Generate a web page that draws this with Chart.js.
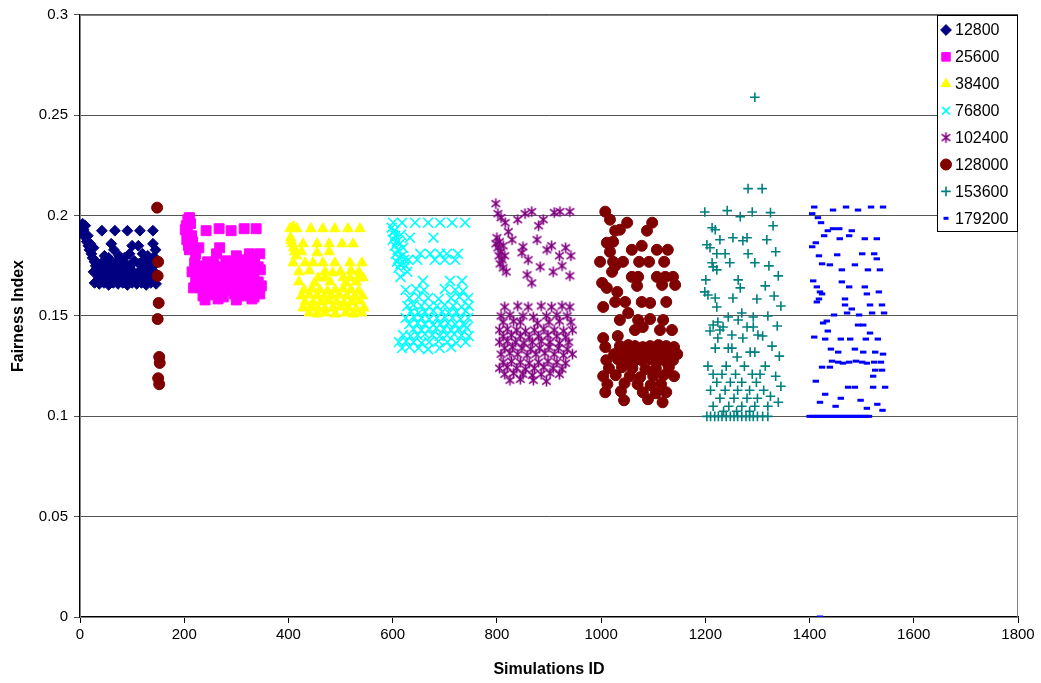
<!DOCTYPE html>
<html><head><meta charset="utf-8">
<script src="https://cdn.jsdelivr.net/npm/chart.js@4.4.1/dist/chart.umd.min.js"></script>
<style>html,body{margin:0;padding:0;background:#fff;}#wrap{width:1041px;height:683px;}</style>
</head><body><div id="wrap"><canvas id="c" width="1041" height="683"></canvas></div>
<script>
const seriesNames = ['12800','25600','38400','76800','102400','128000','153600','179200'];
const xTicks = [0,200,400,600,800,1000,1200,1400,1600,1800];
const yTickLabels = ['0','0.05','0.1','0.15','0.2','0.25','0.3'];

const s12800 = [[1,0.192],[3,0.194],[5,0.196],[7,0.193],[8,0.19],[10,0.195],[11,0.189],[13,0.187],[15,0.19],[16,0.185],[18,0.183],[20,0.186],[22,0.181],[24,0.179],[26,0.184],[28,0.177],[30,0.175],[32,0.172],
[42,0.1925],[67,0.1925],[91,0.1925],[115,0.1925],[140,0.1925],
[60,0.186],[65,0.183],[55,0.179],[100,0.185],[95,0.181],[112,0.185],[120,0.181],[140,0.186],[145,0.183],[138,0.178],[75,0.18],[85,0.179],[47,0.18],[130,0.18],
[33,0.1765],[40,0.175],[46,0.1775],[53,0.176],[61,0.1745],[69,0.177],[77,0.1755],[86,0.1765],[96,0.175],[104,0.1775],[113,0.176],[123,0.1745],[133,0.177],[143,0.1755],
[26,0.172],[34,0.1725],[41,0.171],[50,0.173],[58,0.1715],[66,0.1725],[74,0.171],[83,0.173],[92,0.1715],[100,0.1725],[108,0.171],[118,0.173],[127,0.1715],[136,0.1725],[146,0.171],
[36,0.169],[44,0.1685],[54,0.1695],[63,0.168],[72,0.169],[81,0.1685],[90,0.1695],[99,0.168],[110,0.169],[120,0.1685],[130,0.1695],[140,0.168],
[28,0.1665],[37,0.166],[46,0.1665],[55,0.1655],[64,0.1665],[73,0.166],[82,0.1665],[91,0.1655],[100,0.1665],[109,0.166],[118,0.1665],[127,0.1655],[136,0.1665],[146,0.166],
[42,0.174],[62,0.1735],[95,0.174],[122,0.178],[142,0.1795],[48,0.1685],[78,0.1675],[104,0.1675],[132,0.1675]];

const s25600 = [[202,0.193],[204,0.195],[207,0.198],[210,0.199],[212,0.196],[206,0.191],[205,0.188],[208,0.185],[210,0.183],[214,0.19],[216,0.187],
[242,0.1925],[267,0.1935],[290,0.1925],[315,0.1935],[338,0.1935],
[222,0.181],[228,0.184],[262,0.181],[268,0.184],[300,0.18],[310,0.178],[325,0.181],[335,0.179],[345,0.181],
[220,0.1765],[232,0.175],[245,0.177],[256,0.176],[268,0.1745],[280,0.1775],[292,0.176],[305,0.175],[318,0.177],[330,0.176],[342,0.1745],
[215,0.172],[226,0.1725],[238,0.171],[250,0.173],[262,0.1715],[274,0.1725],[286,0.171],[298,0.173],[310,0.1715],[322,0.1725],[334,0.171],[346,0.173],
[222,0.168],[234,0.1685],[246,0.167],[258,0.169],[270,0.1675],[282,0.1685],[294,0.167],[306,0.169],[318,0.1675],[330,0.1685],[342,0.167],
[218,0.164],[230,0.1645],[242,0.163],[254,0.165],[266,0.1635],[278,0.1645],[290,0.163],[302,0.165],[314,0.1635],[326,0.1645],[338,0.163],[348,0.165],
[236,0.16],[252,0.1605],[275,0.1595],[296,0.161],[318,0.16],[334,0.1595],[345,0.161],
[240,0.158],[265,0.1585],[300,0.158],[330,0.1585]];

const s38400 = [[403,0.1935],[409,0.1945],[416,0.1935],[443,0.1935],[466,0.1935],[489,0.1935],[514,0.1935],[537,0.1935],
[404,0.189],[407,0.186],[410,0.184],[412,0.182],[405,0.1875],[415,0.18],
[428,0.186],[455,0.186],[478,0.186],[503,0.186],[524,0.186],
[425,0.182],[455,0.1815],[478,0.182],
[409,0.1765],[432,0.1765],[447,0.1765],[466,0.1765],[489,0.1765],[518,0.1765],[541,0.1765],
[420,0.172],[440,0.1725],[470,0.172],[485,0.1715],[500,0.172],[520,0.1725],[535,0.172],
[457,0.169],[470,0.169],[505,0.169],[518,0.169],[534,0.169],[543,0.169],
[420,0.167],[450,0.1665],[480,0.167],[510,0.1665],[530,0.167],
[430,0.163],[445,0.1635],[460,0.163],[475,0.1625],[490,0.163],[505,0.1635],[520,0.163],[535,0.1625],
[425,0.16],[440,0.1605],[455,0.16],[468,0.1595],[482,0.16],[497,0.1605],[512,0.16],[527,0.1595],[542,0.16],
[432,0.157],[447,0.1565],[462,0.157],[477,0.1575],[492,0.157],[507,0.1565],[522,0.157],[537,0.1575],
[428,0.154],[442,0.1545],[456,0.154],[470,0.1535],[485,0.154],[500,0.1545],[515,0.154],[530,0.1535],[545,0.154],
[440,0.1515],[455,0.151],[470,0.1515],[490,0.151],[510,0.1515],[525,0.151],[540,0.1515]];

const s76800 = [[601,0.1965],[618,0.1965],[643,0.1965],[668,0.1965],[691,0.1965],[714,0.1965],[739,0.1965],
[598,0.194],[602,0.192],[605,0.19],[600,0.188],[608,0.187],[604,0.185],[610,0.183],[606,0.181],[612,0.179],[608,0.177],[615,0.176],[611,0.174],[618,0.18],[614,0.186],[620,0.184],[603,0.1925],[616,0.1905],[622,0.178],[625,0.175],[628,0.172],
[633,0.189],[678,0.189],[653,0.181],[672,0.181],[691,0.181],[704,0.181],[725,0.181],[630,0.178],[647,0.178],[681,0.178],[700,0.178],[720,0.178],[615,0.1695],[658,0.1675],[710,0.1675],[733,0.1675],
[625,0.163],[645,0.1635],[660,0.163],[700,0.1635],[720,0.163],[735,0.1625],
[632,0.159],[650,0.1595],[668,0.159],[688,0.1585],[712,0.159],[728,0.1595],[745,0.159],
[628,0.155],[640,0.1555],[655,0.155],[670,0.1545],[685,0.155],[700,0.1555],[716,0.155],[732,0.1545],[746,0.155],
[635,0.152],[650,0.1515],[662,0.152],[678,0.1525],[695,0.152],[708,0.1515],[722,0.152],[740,0.1525],
[625,0.149],[640,0.1495],[655,0.149],[670,0.1485],[685,0.149],[700,0.1495],[715,0.149],[730,0.1485],[745,0.149],
[632,0.146],[648,0.1465],[662,0.146],[678,0.1455],[692,0.146],[706,0.1465],[720,0.146],[738,0.1455],
[640,0.1435],[655,0.143],[670,0.1435],[684,0.144],[698,0.1435],[712,0.143],[726,0.1435],[742,0.144],
[620,0.1405],[634,0.14],[648,0.1405],[662,0.141],[676,0.1405],[690,0.14],[704,0.1405],[718,0.141],[732,0.1405],[746,0.14],
[612,0.137],[626,0.1375],[640,0.137],[655,0.1365],[670,0.137],[688,0.1375],[705,0.137],[722,0.1365],[740,0.137],
[618,0.134],[632,0.1345],[650,0.134],[668,0.1335],[690,0.134],[712,0.1345]];

const s102400 = [[798,0.206],[802,0.201],[808,0.199],[816,0.1965],[822,0.192],[840,0.198],[854,0.201],[867,0.202],[889,0.198],[910,0.2015],[921,0.202],[940,0.202],[880,0.195],
[800,0.189],[805,0.187],[802,0.184],[808,0.182],[804,0.18],[810,0.178],[806,0.176],[812,0.185],[815,0.18],[798,0.186],[812,0.174],[818,0.172],
[829,0.188],[850,0.1845],[877,0.188],[896,0.183],[848,0.1815],[860,0.178],[883,0.1745],[858,0.1705],[867,0.1665],[905,0.185],[920,0.18],[932,0.184],[942,0.18],[925,0.175],[940,0.17],[908,0.172],
[815,0.1545],[840,0.155],[860,0.1545],[885,0.155],[905,0.1545],[925,0.155],[940,0.1545],
[808,0.15],[825,0.1505],[850,0.15],[870,0.1495],[895,0.15],[915,0.1505],[935,0.15],
[812,0.147],[832,0.1475],[845,0.147],[878,0.1465],[900,0.147],[920,0.1475],[942,0.147],
[805,0.143],[820,0.1435],[838,0.143],[855,0.1425],[872,0.143],[890,0.1435],[910,0.143],[928,0.1425],[945,0.143],
[812,0.14],[828,0.1405],[845,0.14],[862,0.1395],[880,0.14],[898,0.1405],[915,0.14],[932,0.1395],
[805,0.137],[820,0.1375],[836,0.137],[852,0.1365],[868,0.137],[885,0.1375],[902,0.137],[920,0.1365],[938,0.137],
[815,0.134],[830,0.1345],[848,0.134],[865,0.1335],[882,0.134],[900,0.1345],[918,0.134],[935,0.1335],
[808,0.131],[825,0.1315],[840,0.131],[858,0.1305],[875,0.131],[892,0.1315],[910,0.131],[928,0.1305],[945,0.131],
[812,0.127],[828,0.1275],[845,0.127],[862,0.1265],[880,0.127],[898,0.1275],[915,0.127],[932,0.1265],
[805,0.124],[820,0.1245],[838,0.124],[855,0.1235],[872,0.124],[890,0.1245],[908,0.124],[925,0.1235],
[815,0.121],[832,0.1215],[850,0.121],[868,0.1205],[885,0.121],[902,0.1215],[920,0.121],
[825,0.118],[845,0.1185],[870,0.118],[895,0.1175]];

const s128000 = [[148,0.204],[150,0.177],[149,0.17],[151,0.1565],[149,0.1485],[152,0.1296],[153,0.1266],[150,0.119],[152,0.116],
[1008,0.202],[1017,0.198],[1050,0.1965],[1098,0.1965],[1027,0.1925],[1036,0.193],[1088,0.1925],
[1011,0.1865],[1023,0.187],[1059,0.183],[1078,0.185],[1107,0.183],[1128,0.183],[1017,0.182],
[998,0.177],[1023,0.177],[1042,0.177],[1073,0.177],[1092,0.177],[1121,0.177],[1021,0.172],[1027,0.175],
[1059,0.1695],[1071,0.1695],[1107,0.1695],[1123,0.1695],[1138,0.1695],[1002,0.1665],[1011,0.164],[1069,0.165],[1117,0.1655],[1142,0.1655],[1031,0.162],
[1027,0.157],[1046,0.157],[1078,0.157],[1094,0.1565],[1125,0.157],[1004,0.1545],[1052,0.1515],
[1036,0.148],[1071,0.148],[1094,0.1485],[1119,0.148],[1065,0.143],[1080,0.1445],[1113,0.143],[1136,0.143],
[1004,0.139],[1032,0.14],[1008,0.1345],
[1036,0.135],[1052,0.1355],[1065,0.135],[1080,0.1345],[1094,0.135],[1110,0.1355],[1125,0.135],[1140,0.1345],
[1025,0.131],[1040,0.1315],[1057,0.131],[1071,0.1305],[1088,0.131],[1102,0.1315],[1117,0.131],[1132,0.1305],[1146,0.131],
[1010,0.128],[1032,0.1285],[1048,0.128],[1063,0.1275],[1078,0.128],[1094,0.1285],[1108,0.128],[1123,0.1275],[1138,0.128],
[1015,0.124],[1040,0.1245],[1060,0.124],[1085,0.1235],[1105,0.124],[1130,0.1245],
[1004,0.12],[1028,0.1205],[1055,0.12],[1075,0.1195],[1100,0.12],[1120,0.1205],[1140,0.12],
[1012,0.116],[1045,0.1165],[1070,0.116],[1095,0.1155],[1115,0.116],
[1008,0.112],[1038,0.1125],[1080,0.112],[1105,0.1115],[1125,0.112],
[1044,0.108],[1090,0.1085],[1118,0.107]];

const s153600 = [[1199,0.2018],[1242,0.2025],[1267,0.1995],[1290,0.2018],[1213,0.194],[1219,0.193],[1228,0.188],[1253,0.189],[1272,0.1875],[1280,0.189],
[1203,0.1855],[1209,0.184],[1222,0.181],[1238,0.181],[1282,0.181],[1213,0.1765],[1215,0.1745],[1222,0.173],[1247,0.1765],[1295,0.1765],
[1201,0.168],[1263,0.168],[1267,0.164],[1199,0.162],[1205,0.1605],[1219,0.159],[1253,0.159],[1222,0.1545],[1299,0.1585],[1270,0.1515],
[1224,0.147],[1244,0.1495],[1263,0.148],[1292,0.1495],[1215,0.1455],[1234,0.1445],[1280,0.1445],[1292,0.1445],[1209,0.1425],[1228,0.143],
[1251,0.1405],[1272,0.139],[1224,0.139],[1301,0.1405],[1219,0.134],[1251,0.134],[1244,0.134],[1286,0.132],[1295,0.132],[1261,0.1296],
[1282,0.2135],[1309,0.2135],[1295,0.259],[1325,0.2015],[1330,0.195],[1318,0.188],[1335,0.182],[1322,0.175],[1340,0.17],[1315,0.165],
[1332,0.16],[1345,0.155],[1320,0.15],[1338,0.145],[1310,0.14],[1328,0.135],[1342,0.13],[1315,0.125],[1335,0.12],[1345,0.115],[1325,0.11],[1340,0.107],
[1205,0.125],[1240,0.125],[1275,0.125],[1215,0.121],[1232,0.121],[1258,0.121],[1290,0.121],[1305,0.121],
[1222,0.117],[1248,0.117],[1270,0.117],[1298,0.117],[1210,0.113],[1238,0.113],[1262,0.113],[1285,0.113],[1312,0.113],
[1228,0.109],[1255,0.109],[1280,0.109],[1300,0.109],[1215,0.105],[1245,0.105],[1270,0.105],[1295,0.105],[1320,0.105],
[1235,0.1025],[1260,0.1025],[1285,0.1025],
[1203,0.1],[1210,0.1],[1218,0.1],[1225,0.1],[1232,0.1],[1240,0.1],[1248,0.1],[1255,0.1],[1262,0.1],[1270,0.1],[1278,0.1],[1285,0.1],[1292,0.1],[1300,0.1],[1310,0.1],[1320,0.1]];

const s179200 = [[1409,0.2043],[1405,0.201],[1445,0.2028],[1470,0.2043],[1493,0.2028],[1518,0.2043],[1541,0.2043],[1416,0.199],[1422,0.1965],[1435,0.1925],
[1445,0.1935],[1457,0.1935],[1481,0.1925],[1428,0.19],[1458,0.1885],[1476,0.19],[1506,0.1885],[1529,0.1885],[1412,0.1865],[1405,0.1845],
[1418,0.18],[1453,0.1805],[1501,0.181],[1524,0.181],[1529,0.1785],[1424,0.176],[1439,0.1755],[1462,0.173],[1487,0.1755],[1512,0.173],[1535,0.173],
[1407,0.1675],[1414,0.1645],[1462,0.167],[1476,0.1645],[1506,0.1645],[1420,0.162],[1424,0.161],[1533,0.162],[1418,0.1585],[1414,0.157],
[1468,0.1585],[1510,0.161],[1468,0.1555],[1481,0.1535],[1516,0.1555],[1539,0.1555],[1447,0.1505],[1472,0.1515],[1495,0.1505],[1520,0.1515],[1543,0.1515],
[1433,0.1475],[1426,0.1465],[1493,0.1455],[1503,0.1455],[1435,0.1425],[1516,0.1415],[1409,0.1395],[1430,0.1385],[1460,0.1385],[1478,0.1385],[1508,0.1385],[1531,0.1385],
[1441,0.1335],[1455,0.132],[1487,0.1335],[1503,0.132],[1526,0.132],[1541,0.131],
[1443,0.1275],[1455,0.127],[1464,0.1265],[1476,0.127],[1489,0.1275],[1501,0.127],[1510,0.1265],[1524,0.127],[1537,0.127],
[1526,0.123],[1539,0.123],[1522,0.12],[1424,0.1245],[1439,0.1245],[1412,0.1175],[1474,0.1145],[1487,0.1145],[1522,0.1145],[1545,0.1145],
[1430,0.111],[1460,0.109],[1498,0.108],[1530,0.106],[1540,0.103],[1510,0.104],[1450,0.105],[1420,0.107],
[1400,0.1],[1406,0.1],[1412,0.1],[1418,0.1],[1424,0.1],[1430,0.1],[1436,0.1],[1442,0.1],[1448,0.1],[1454,0.1],[1460,0.1],[1466,0.1],[1472,0.1],[1478,0.1],[1484,0.1],[1490,0.1],[1496,0.1],[1502,0.1],[1508,0.1],[1514,0.1],
[1420,0]];

const seriesData = [s12800,s25600,s38400,s76800,s102400,s128000,s153600,s179200];

function makeAsterisk(color){
  const s=13, c=document.createElement('canvas'); c.width=s; c.height=s;
  const g=c.getContext('2d'); g.strokeStyle=color; g.lineWidth=1.6; const m=s/2, r=5.2, d=4.3;
  g.beginPath(); g.moveTo(m,m-r); g.lineTo(m,m+r);
  g.moveTo(m-d,m-d+1); g.lineTo(m+d,m+d-1); g.moveTo(m+d,m-d+1); g.lineTo(m-d,m+d-1); g.stroke();
  return c;
}
const styles = [
  {color:'#000080', pointStyle:'rectRot', radius:5.4, borderWidth:1},
  {color:'#FF00FF', pointStyle:'rect', radius:7, borderWidth:1},
  {color:'#FFFF00', pointStyle:'triangle', radius:6, borderWidth:1},
  {color:'#00FFFF', pointStyle:'crossRot', radius:7, borderWidth:1.6},
  {color:'#800080', pointStyle:makeAsterisk('#800080'), radius:6, borderWidth:1},
  {color:'#800000', pointStyle:'circle', radius:5.5, borderWidth:1},
  {color:'#008080', pointStyle:'cross', radius:4.8, borderWidth:1.6},
  {color:'#0000FF', pointStyle:'line', radius:3.2, borderWidth:3}
];

const datasets = seriesNames.map((name,i)=>({
  label:name,
  data: seriesData[i].map(p=>({x:p[0], y:p[1]})),
  pointStyle: styles[i].pointStyle,
  pointRadius: styles[i].radius,
  pointHoverRadius: styles[i].radius,
  pointBorderWidth: styles[i].borderWidth,
  backgroundColor: styles[i].color,
  borderColor: styles[i].color,
  showLine:false,
  order: seriesNames.length - i
}));

const frame = {
  id:'frame',
  beforeDatasetsDraw(chart){
    const a=chart.chartArea, ctx=chart.ctx;
    ctx.save(); ctx.strokeStyle='#808080'; ctx.lineWidth=1;
    ctx.strokeRect(Math.round(a.left)+0.5, Math.round(a.top)+0.5, Math.round(a.right-a.left)-1, Math.round(a.bottom-a.top));
    ctx.restore();
  }
};

const boxLegend = {
  id:'boxLegend',
  afterDraw(chart){
    const a=chart.chartArea, ctx=chart.ctx;
    const w=80, h=216, x0=Math.round(a.right)-81, y0=Math.round(a.top);
    ctx.save();
    ctx.fillStyle='#fff'; ctx.fillRect(x0,y0,w,h);
    ctx.strokeStyle='#000'; ctx.lineWidth=1; ctx.strokeRect(x0+0.5,y0+0.5,w,h);
    ctx.font='16px "Liberation Sans", Arial, sans-serif';
    ctx.textBaseline='middle'; ctx.textAlign='left';
    chart.data.datasets.forEach((ds,i)=>{
      const cy=y0+15+i*26.9, mx=x0+9;
      const st=styles[i];
      ctx.fillStyle=st.color; ctx.strokeStyle=st.color; ctx.lineWidth=st.borderWidth;
      let r=st.radius;
      if (st.pointStyle==='rect') r=6; else if (st.pointStyle==='line') r=2.5; else r=Math.min(r,5.5);
      Chart.helpers.drawPoint(ctx,{pointStyle:st.pointStyle, radius:r, rotation:0, borderWidth:st.borderWidth}, mx, cy);
      ctx.fillStyle='#000';
      ctx.fillText(ds.label, x0+18, cy+1);
    });
    ctx.restore();
  }
};

const font = {family:'"Liberation Sans", Arial, sans-serif', size:15};
new Chart(document.getElementById('c'), {
  type:'scatter',
  data:{datasets},
  options:{
    responsive:false, animation:false, devicePixelRatio:1,
    layout:{padding:{top:15,right:23,left:0,bottom:0}},
    plugins:{legend:{display:false}, tooltip:{enabled:false}},
    scales:{
      x:{type:'linear', min:0, max:1800,
        afterBuildTicks(s){ s.ticks = xTicks.map(v=>({value:v})); },
        afterFit(s){ s.height=66; },
        grid:{display:true, drawOnChartArea:false, drawTicks:true, tickLength:6, color:'#000'},
        border:{display:true, color:'#000', width:1.5},
        ticks:{color:'#000', font, padding:3, maxRotation:0, callback:(v)=>String(v)},
        title:{display:true, text:'Simulations ID', color:'#000', font:{family:font.family, size:16, weight:'bold'}, padding:{top:4,bottom:4}}
      },
      y:{type:'linear', min:0, max:0.3,
        afterBuildTicks(s){ s.ticks = yTickLabels.map((t,i)=>({value:i*0.05})); },
        afterFit(s){ s.width=80; },
        grid:{display:true, drawOnChartArea:true, drawTicks:true, tickLength:6, color:'#555', lineWidth:1},
        border:{display:true, color:'#000', width:1.5},
        ticks:{color:'#000', font, padding:6, callback:(v,i)=>yTickLabels[i]},
        title:{display:true, text:'Fairness Index', color:'#000', font:{family:font.family, size:16, weight:'bold'}, padding:{top:9,bottom:4}}
      }
    }
  },
  plugins:[frame, boxLegend]
});
</script></body></html>
